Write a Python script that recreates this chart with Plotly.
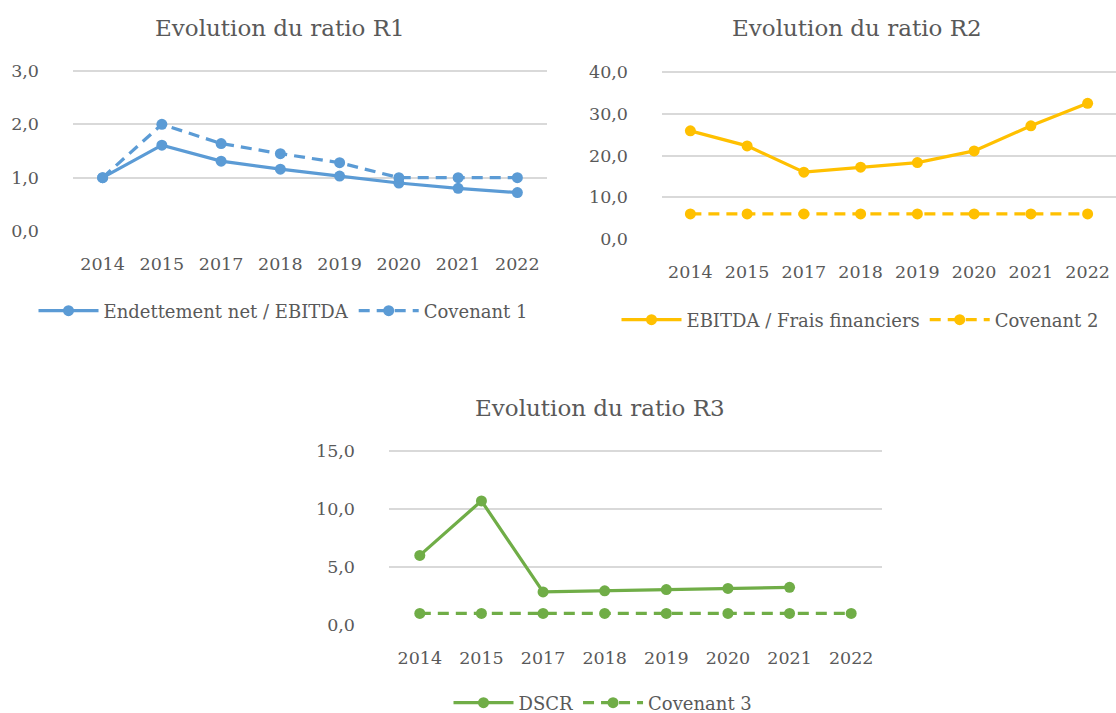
import plotly.graph_objects as go

years = ["2014", "2015", "2017", "2018", "2019", "2020", "2021", "2022"]

r1_ratio = [1.0, 1.61, 1.31, 1.16, 1.03, 0.90, 0.80, 0.72]
r1_cov = [1.0, 2.0, 1.64, 1.45, 1.28, 1.0, 1.0, 1.0]

r2_ratio = [25.9, 22.3, 16.0, 17.2, 18.3, 21.1, 27.1, 32.5]
r2_cov = [6.0, 6.0, 6.0, 6.0, 6.0, 6.0, 6.0, 6.0]

r3_dscr = [6.0, 10.7, 2.85, 2.95, 3.05, 3.15, 3.25, None]
r3_cov = [1.0, 1.0, 1.0, 1.0, 1.0, 1.0, 1.0, 1.0]

BLUE = "#5B9BD5"
GOLD = "#FFC000"
GREEN = "#70AD47"
TEXT = "#595959"
GRID = "#D9D9D9"
FONT = "DejaVu Serif, Liberation Serif, serif"

fig = go.Figure()

def add(y, name, color, dash, xa, ya, leg):
    fig.add_trace(go.Scatter(
        x=years, y=y, name=name, mode="lines+markers",
        line=dict(color=color, width=3.25, dash=dash),
        marker=dict(color=color, size=11),
        xaxis=xa, yaxis=ya, legend=leg, connectgaps=False,
    ))

DASH = "11px,7px"
add(r1_ratio, "Endettement net / EBITDA", BLUE, "solid", "x", "y", "legend")
add(r1_cov, "Covenant 1", BLUE, DASH, "x", "y", "legend")
add(r2_ratio, "EBITDA / Frais financiers", GOLD, "solid", "x2", "y2", "legend2")
add(r2_cov, "Covenant 2", GOLD, DASH, "x2", "y2", "legend2")
add(r3_dscr, "DSCR", GREEN, "solid", "x3", "y3", "legend3")
add(r3_cov, "Covenant 3", GREEN, DASH, "x3", "y3", "legend3")

W, H = 1116, 713
PAD = 1.04

def xax(x0, x1, anchor):
    return dict(domain=[x0 / W, x1 / W], type="category", range=[-0.5, 7.5],
                showgrid=False, showline=False, zeroline=False, ticks="",
                tickfont=dict(family=FONT, size=17.5, color=TEXT),
                ticklabelstandoff=20, anchor=anchor, fixedrange=True)

def yax(ytop, ybot, ymax, dtick, anchor):
    top = ybot - (ybot - ytop) * PAD
    return dict(domain=[1 - ybot / H, 1 - top / H], range=[0, ymax * PAD], dtick=dtick,
                tickformat=".1f", showgrid=True, gridcolor=GRID, gridwidth=1.5,
                showline=False, zeroline=False, ticks="",
                tickfont=dict(family=FONT, size=17.5, color=TEXT),
                ticklabelstandoff=33, anchor=anchor, fixedrange=True)

def leg(xc, yc):
    return dict(orientation="h", x=xc / W, y=1 - yc / H, xanchor="center",
                yanchor="middle", font=dict(family=FONT, size=18, color=TEXT),
                bgcolor="rgba(0,0,0,0)", itemwidth=60)

def title(text, xc, yc):
    return dict(text=text, x=xc / W, y=1 - yc / H, xref="paper", yref="paper",
                showarrow=False, font=dict(family=FONT, size=23, color=TEXT),
                xanchor="center", yanchor="middle")

fig.update_layout(
    width=W, height=H, margin=dict(l=0, r=0, t=0, b=0, autoexpand=False),
    paper_bgcolor="white", plot_bgcolor="white",
    separators=", ",
    showlegend=True,
    xaxis=xax(73, 547, "y"),
    yaxis=yax(71, 231, 3, 1, "x"),
    xaxis2=xax(662, 1116, "y2"),
    yaxis2=yax(72, 239, 40, 10, "x2"),
    xaxis3=xax(389, 882, "y3"),
    yaxis3=yax(451, 625, 15, 5, "x3"),
    legend=leg(283, 311),
    legend2=leg(860, 320),
    legend3=leg(603, 703),
    annotations=[
        title("Evolution du ratio R1", 280, 28),
        title("Evolution du ratio R2", 857, 28),
        title("Evolution du ratio R3", 600, 408),
    ],
)

fig.write_html("out.html", config={"displayModeBar": False},
               post_script="document.body.style.margin='0';")
